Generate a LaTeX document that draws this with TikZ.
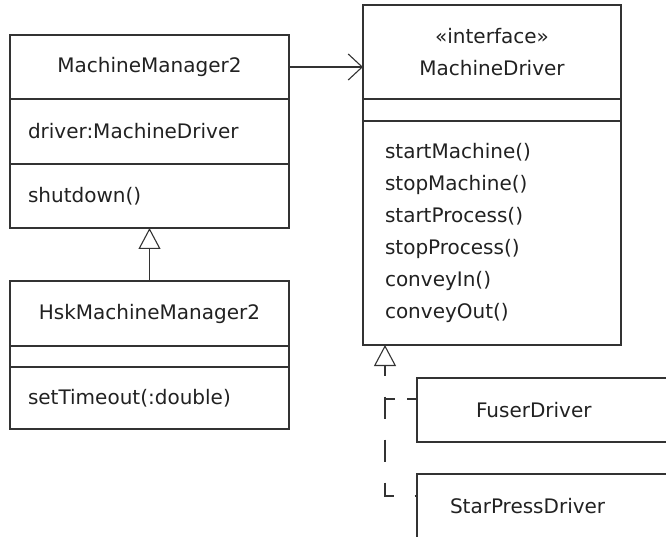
\documentclass[tikz,border=0pt]{standalone}
\usepackage{fontspec}
\setmainfont{DejaVu Sans}
\usetikzlibrary{arrows.meta}
\definecolor{umlline}{gray}{0.2}
\definecolor{umltext}{gray}{0.13}
\tikzset{
  compart/.style={draw=umlline, line width=1.1pt, text=umltext, anchor=north west, outer sep=0pt,
    font=\fontsize{20}{32}\selectfont},
  titlebox/.style={compart, inner sep=0pt, align=center},
  membox/.style={compart, inner ysep=0pt, align=left},
  drvbox/.style={compart, minimum height=64pt, inner ysep=0pt, align=left, text width=200pt},
  assoc/.style={draw=umlline, line width=1.1pt, -{Straight Barb[length=14pt,width=26pt]}},
  inherit/.style={draw=umlline, line width=1.1pt, -{Triangle[open,length=21pt,width=22pt]}},
  realize/.style={draw=umlline, line width=1.1pt, dash pattern=on 22pt off 21pt, dash phase=12pt,
    {Triangle[open,length=21pt,width=22pt]}-},
  realizebranch/.style={draw=umlline, line width=1.1pt, dash pattern=on 10pt off 12pt}
}
\begin{document}
\begin{tikzpicture}[x=1pt,y=-1pt]
  \useasboundingbox (0,0) rectangle (666,537);
  \node[titlebox, minimum width=279pt, minimum height=64pt] (mm) at (10,35) {MachineManager2};
  \node[membox, inner xsep=18pt, text width=243pt, minimum height=65pt] (mmattr) at (mm.south west) {driver:MachineDriver};
  \node[membox, inner xsep=18pt, text width=243pt, minimum height=64pt] (mmops) at (mmattr.south west) {shutdown()};

  \node[titlebox, minimum width=279pt, minimum height=65pt] (hsk) at (10,281) {HskMachineManager2};
  \node[titlebox, minimum width=279pt, minimum height=21pt] (hskattr) at (hsk.south west) {};
  \node[membox, inner xsep=18pt, text width=243pt, minimum height=62pt] (hskops) at (hskattr.south west) {setTimeout(:double)};

  \node[titlebox, minimum width=258pt, minimum height=94pt] (md) at (363,5) {«interface»\\MachineDriver};
  \node[titlebox, minimum width=258pt, minimum height=22pt] (mdattr) at (md.south west) {};
  \node[membox, inner xsep=22pt, text width=214pt, minimum height=224pt] (mdops) at (mdattr.south west)
    {startMachine()\\stopMachine()\\startProcess()\\stopProcess()\\conveyIn()\\conveyOut()};

  \node[drvbox, inner xsep=59pt] (fd) at (417,378) {FuserDriver};
  \node[drvbox, inner xsep=33pt] (sp) at (417,474) {StarPressDriver};

  \coordinate (impl) at ([xshift=22pt]mdops.south west);
  \coordinate (fdin) at ([yshift=-21pt]fd.north west);
  \coordinate (spin) at ([yshift=-22pt]sp.north west);

  \draw[assoc] (mm.east) -- (mm.east -| md.west);
  \draw[inherit] (hsk.north) -- (mmops.south);
  \draw[realize] (impl) -- (spin -| impl) -- (spin);
  \draw[realizebranch] (fdin -| impl) -- (fdin);
\end{tikzpicture}
\end{document}
